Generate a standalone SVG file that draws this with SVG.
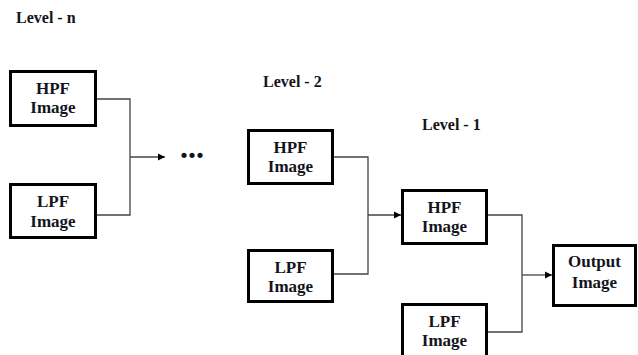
<svg xmlns="http://www.w3.org/2000/svg" width="638" height="355" viewBox="0 0 638 355">
<style>
.box{fill:#fff;stroke:#000;stroke-width:3}
.t{font-family:"Liberation Serif",serif;font-weight:bold;font-size:17px;fill:#141420;text-anchor:middle}
.lv{font-family:"Liberation Serif",serif;font-weight:bold;font-size:16px;fill:#141420}
.c{fill:none;stroke:#444;stroke-width:1.3}
</style>
<defs>
<marker id="ah" markerWidth="8" markerHeight="8" refX="7" refY="4" orient="auto" markerUnits="userSpaceOnUse">
<path d="M0,0.5 L7,4 L0,7.5 Z" fill="#000"/>
</marker>
</defs>
<rect width="638" height="355" fill="#fff"/>
<text class="lv" x="16" y="23">Level - n</text>
<text class="lv" x="263" y="87">Level - 2</text>
<text class="lv" x="422" y="130">Level - 1</text>
<g id="connectors">
<path class="c" d="M97,99 H130 V215 H97"/>
<path class="c" d="M130,157 H165" marker-end="url(#ah)"/>
<path class="c" d="M334,157 H368 V274 H334"/>
<path class="c" d="M368,215 H401" marker-end="url(#ah)"/>
<path class="c" d="M488,215 H522 V332 H488"/>
<path class="c" d="M522,275 H552" marker-end="url(#ah)"/>
</g>
<text class="lv" x="180" y="158" style="font-size:32px">...</text>
<g id="n-hpf"><rect class="box" x="10.5" y="71.5" width="85" height="54"/><text class="t" x="53" y="94">HPF</text><text class="t" x="53" y="113">Image</text></g>
<g id="n-lpf"><rect class="box" x="10.5" y="184.5" width="85" height="53"/><text class="t" x="53" y="207">LPF</text><text class="t" x="53" y="227">Image</text></g>
<g id="l2-hpf"><rect class="box" x="248.5" y="130.5" width="84" height="53"/><text class="t" x="290.5" y="153">HPF</text><text class="t" x="290.5" y="172">Image</text></g>
<g id="l2-lpf"><rect class="box" x="248.5" y="250.5" width="84" height="51"/><text class="t" x="290.5" y="273">LPF</text><text class="t" x="290.5" y="292">Image</text></g>
<g id="l1-hpf"><rect class="box" x="402.5" y="190.5" width="84" height="53"/><text class="t" x="444.5" y="213">HPF</text><text class="t" x="444.5" y="232">Image</text></g>
<g id="l1-lpf"><rect class="box" x="402.5" y="304.5" width="84" height="56"/><text class="t" x="444.5" y="327">LPF</text><text class="t" x="444.5" y="346">Image</text></g>
<g id="output"><rect class="box" x="553.5" y="245.5" width="82" height="60"/><text class="t" x="594.5" y="267">Output</text><text class="t" x="594.5" y="288">Image</text></g>
</svg>
